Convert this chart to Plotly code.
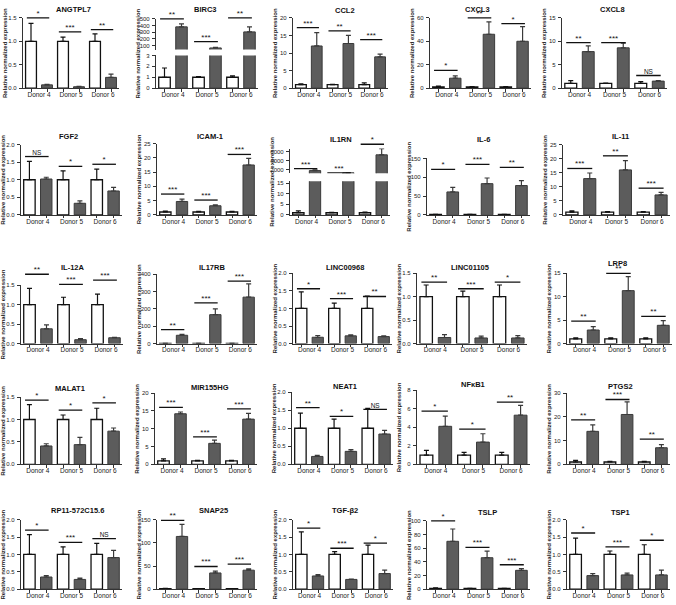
import plotly.graph_objects as go

# ---------------- data ----------------
genes = ["ANGTPL7", "BIRC3", "CCL2", "CXCL3", "CXCL8",
         "FGF2", "ICAM-1", "IL1RN", "IL-6", "IL-11",
         "IL-12A", "IL17RB", "LINC00968", "LINC01105", "LRP8",
         "MALAT1", "MIR155HG", "NEAT1", "NFκB1", "PTGS2",
         "RP11-572C15.6", "SNAP25", "TGF-β2", "TSLP", "TSP1"]
donors = ["Donor 4", "Donor 5", "Donor 6"]

ctrl_mean = [
    [1, 1, 1], [1, 1, 1], [1, 1, 1], [1, 1, 1], [1, 1, 1],
    [1, 1, 1], [1, 1, 1], [1, 1, 1], [1, 1, 1], [1, 1, 1],
    [1, 1, 1], [1, 1, 1], [1, 1, 1], [1, 1, 1], [1, 1, 1],
    [1, 1, 1], [1, 1, 1], [1, 1, 1], [1, 1, 1], [1, 1, 1],
    [1, 1, 1], [1, 1, 1], [1, 1, 1], [1, 1, 1], [1, 1, 1],
]
ctrl_err = [
    [0.38, 0.09, 0.16], [0.85, 0.07, 0.12], [0.25, 0.05, 0.5], [0.8, 0.3, 0.3], [0.6, 0.1, 0.4],
    [0.52, 0.25, 0.3], [0.35, 0.2, 0.2], [0.9, 0.15, 0.3], [0.6, 0.4, 0.5], [0.4, 0.15, 0.2],
    [0.42, 0.19, 0.27], [0.6, 0.4, 0.4], [0.47, 0.15, 0.35], [0.25, 0.12, 0.25], [0.25, 0.25, 0.2],
    [0.33, 0.1, 0.25], [0.55, 0.1, 0.1], [0.42, 0.25, 0.55], [0.5, 0.3, 0.3], [0.7, 0.3, 0.3],
    [0.57, 0.22, 0.32], [0.6, 0.4, 0.4], [0.65, 0.08, 0.27], [0.8, 0.3, 0.3], [0.47, 0.1, 0.28],
]
treat_mean = [
    [0.07, 0.03, 0.23], [380, 65, 305], [12.0, 12.7, 8.9], [8.5, 46, 40], [7.8, 8.6, 1.5],
    [1.02, 0.33, 0.68], [4.7, 3.2, 17.5], [1800, 1300, 5300], [61, 83, 78], [12.9, 16.0, 7.1],
    [0.38, 0.10, 0.15], [48, 167, 268], [0.18, 0.22, 0.20], [0.13, 0.12, 0.12], [2.9, 11.3, 3.9],
    [0.41, 0.44, 0.74], [14.2, 5.9, 12.7], [0.22, 0.36, 0.84], [4.1, 2.4, 5.3], [13.9, 21.0, 7.0],
    [0.35, 0.28, 0.91], [114, 35, 41], [0.38, 0.28, 0.45], [70, 46, 27.5], [0.39, 0.41, 0.41],
]
treat_err = [
    [0.01, 0.01, 0.07], [45, 8, 75], [3.8, 2.3, 0.8], [2.0, 10.5, 12.5], [1.2, 1.0, 0.1],
    [0.05, 0.07, 0.1], [0.8, 0.35, 2.3], [150, 50, 1400], [12, 15, 13], [2.0, 3.3, 0.9],
    [0.1, 0.03, 0.01], [6, 33, 77], [0.05, 0.03, 0.02], [0.06, 0.04, 0.05], [0.7, 3.0, 1.0],
    [0.05, 0.16, 0.07], [0.5, 0.9, 1.6], [0.03, 0.05, 0.1], [1.1, 0.9, 1.05], [2.7, 5.3, 1.3],
    [0.04, 0.04, 0.21], [26, 4, 3], [0.04, 0.01, 0.1], [18, 9.5, 2.5], [0.06, 0.05, 0.14],
]
signif = [
    ["*", "***", "**"], ["**", "***", "**"], ["***", "**", "***"], ["*", "**", "*"], ["**", "***", "NS"],
    ["NS", "*", "*"], ["***", "***", "***"], ["***", "***", "*"], ["*", "***", "**"], ["***", "**", "***"],
    ["**", "***", "***"], ["**", "***", "***"], ["*", "***", "**"], ["**", "***", "*"], ["**", "**", "**"],
    ["*", "*", "*"], ["***", "***", "***"], ["**", "*", "NS"], ["*", "*", "**"], ["**", "***", "**"],
    ["*", "***", "NS"], ["**", "***", "***"], ["*", "***", "*"], ["*", "***", "***"], ["*", "***", "*"],
]
signif_level = [
    [1.5, 1.2, 1.25], [500, 160, 515], [17.2, 16.3, 13.8], [15.2, 60, 55], [9.7, 9.7, 2.7],
    [1.66, 1.38, 1.44], [7.3, 5.2, 21.2], [2230, 1270, 7650], [121, 134, 126], [16.5, 21, 9.5],
    [1.78, 1.52, 1.63], [81, 235, 360], [1.56, 1.28, 1.34], [1.31, 1.17, 1.31], [4.8, 15, 5.8],
    [1.43, 1.21, 1.37], [16, 7.7, 15.6], [1.57, 1.33, 1.52], [5.73, 3.8, 6.7], [18.7, 27.3, 10.6],
    [1.7, 1.35, 1.46], [149, 49, 54], [1.76, 1.18, 1.33], [100, 61, 35.7], [1.62, 1.22, 1.41],
]
y_max = [1.5, 3, 20, 60, 15,
         2, 25, 16, 150, 25,
         1.5, 400, 2, 1.5, 15,
         1.5, 20, 2, 8, 30,
         2, 150, 2, 100, 2]
y_step = [0.5, 1, 5, 20, 5,
          0.5, 5, 5, 50, 5,
          0.5, 100, 0.5, 0.5, 5,
          0.5, 5, 0.5, 2, 10,
          0.5, 50, 0.5, 20, 0.5]
# upper segments of broken axes: panel index -> (range low, range high), ticks
upper_range = {1: (41, 500), 7: (1200, 6700)}
upper_ticks = {1: [100, 200, 300, 400, 500], 7: [2000, 4000, 6000]}

# ---------------- geometry (pixels) ----------------
W, H = 676, 605
# axis-left x, axis-right x, y of top of axis, y of baseline
panel_px = [
    (23, 119, 15, 86), (156, 258, 53, 86), (293, 388, 15, 86), (430, 531, 15, 86), (562, 667, 15, 86),
    (21, 122, 143, 214), (157, 257, 142, 214), (290, 390, 180, 214), (427, 530, 157, 214), (563, 670, 143, 214),
    (21, 123, 285, 344), (157, 257, 274, 344), (293, 392, 273, 344), (417, 527, 273, 344), (567, 672, 273, 344),
    (21, 122, 398, 466), (155, 257, 394, 466), (292, 393, 393, 466), (417, 530, 391, 466), (567, 670, 394, 466),
    (21, 122, 522, 592), (157, 257, 522, 592), (293, 393, 522, 592), (427, 530, 523, 592), (567, 670, 522, 592),
]
upper_px = {1: (16, 47), 7: (147, 172)}
title_px = [
    (73, 7), (205, 7), (345, 8), (477, 7), (612, 7),
    (68, 135), (210, 135), (341, 138), (483, 138), (620, 135),
    (73, 267), (212, 267), (345, 267), (470, 267), (617, 263),
    (70, 389), (210, 388), (345, 387), (473, 385), (620, 387),
    (77, 513), (213, 513), (345, 513), (487, 515), (620, 515),
]
SIG_EXT = 30  # extra pixels above each panel for significance bars

FONT = "Liberation Sans, Arial, sans-serif"
AXC = "#333333"
GRAY = "#5c5c5c"
XW = [-0.25, 0.75, 1.75]
XG = [0.25, 1.25, 2.25]
SIG_LEFT, SIG_RIGHT = -0.38, 0.32


def pxx(p):
    return p / W


def pxy(p):
    return 1 - p / H


def nm(n, a):
    return a + ("" if n == 1 else str(n))


def lname(n, a):
    return a + "axis" + ("" if n == 1 else str(n))


def fmt(v, step):
    return f"{v:.1f}" if step < 1 else f"{int(round(v))}"


fig = go.Figure()
layout = dict(
    width=W, height=H, margin=dict(l=0, r=0, t=0, b=0),
    paper_bgcolor="white", plot_bgcolor="rgba(0,0,0,0)",
    barmode="overlay", showlegend=False,
    font=dict(family=FONT, color="#222222"),
)
annotations = []


def add_bars(n, i):
    xr, yr = nm(n, "x"), nm(n, "y")
    fig.add_trace(go.Bar(
        x=XW, y=ctrl_mean[i], width=0.34, xaxis=xr, yaxis=yr,
        marker=dict(color="white", line=dict(color="#111111", width=1.3)),
        error_y=dict(type="data", symmetric=False, array=ctrl_err[i], arrayminus=[0, 0, 0],
                     color="#111111", thickness=1.2, width=2.5),
        hoverinfo="skip"))
    fig.add_trace(go.Bar(
        x=XG, y=treat_mean[i], width=0.34, xaxis=xr, yaxis=yr,
        marker=dict(color=GRAY, line=dict(color="#3a3a3a", width=1.0)),
        error_y=dict(type="data", symmetric=False, array=treat_err[i], arrayminus=[0, 0, 0],
                     color="#3a3a3a", thickness=1.2, width=2.5),
        hoverinfo="skip"))


def add_sig(n, i):
    xr, yr = nm(n, "x"), nm(n, "y")
    xc = [g + (SIG_LEFT + SIG_RIGHT) / 2 for g in range(3)]
    lv = signif_level[i]
    xs, ys = [], []
    for g in range(3):
        xs += [g + SIG_LEFT, g + SIG_RIGHT, None]
        ys += [lv[g], lv[g], None]
    fig.add_trace(go.Scatter(x=xs, y=ys, xaxis=xr, yaxis=yr, mode="lines",
                             line=dict(color="#111111", width=1.3), hoverinfo="skip"))
    stars = [s if s != "NS" else "" for s in signif[i]]
    ns = [s if s == "NS" else "" for s in signif[i]]
    fig.add_trace(go.Scatter(
        x=xc, y=lv, xaxis=xr, yaxis=yr, mode="text", text=stars, cliponaxis=False,
        textposition="top center", textfont=dict(size=8, family=FONT, color="#111111"),
        hoverinfo="skip"))
    fig.add_trace(go.Scatter(
        x=xc, y=lv, xaxis=xr, yaxis=yr, mode="text", text=ns, cliponaxis=False,
        textposition="top center", textfont=dict(size=6.5, family=FONT, color="#111111"),
        hoverinfo="skip"))


def yaxis_dict(n, dom, rng, ticks, step):
    return dict(domain=dom, range=rng, anchor=nm(n, "x"), showline=True, linecolor=AXC,
                linewidth=1.2, ticks="outside", ticklen=3, tickwidth=1, tickcolor=AXC,
                tickmode="array", tickvals=ticks, ticktext=[fmt(t, step) for t in ticks],
                tickfont=dict(size=6, family=FONT, color="#222222"), showgrid=False,
                zeroline=False, fixedrange=True, ticklabelstandoff=1)


n = 0
for i, gene in enumerate(genes):
    ax, right, top, base = panel_px[i]
    step = y_step[i]
    nt = int(round(y_max[i] / step))
    ticks = [round(k * step, 3) for k in range(nt + 1)]
    if i in upper_range:
        ticks = [t for t in ticks if t <= 15]
    n += 1
    layout[lname(n, "x")] = dict(
        domain=[pxx(ax), pxx(right)], range=[-0.5, 2.5], anchor=nm(n, "y"),
        showline=True, linecolor=AXC, linewidth=1.2, ticks="", tickmode="array",
        tickvals=[0, 1, 2], ticktext=donors, tickfont=dict(size=6.5, family=FONT, color="#222222"),
        showgrid=False, zeroline=False, fixedrange=True,
        minor=dict(tickmode="array", tickvals=XW + XG, ticks="outside", ticklen=2.5,
                   tickwidth=1, tickcolor=AXC, showgrid=False))
    layout[lname(n, "y")] = yaxis_dict(n, [pxy(base), pxy(top)], [0, y_max[i]], ticks, step)
    add_bars(n, i)
    full_top = top
    # scale used for the significance bars (same pixels-per-unit as the visible scale)
    s_lo, s_hi, s_bot, s_top = 0, y_max[i], base, top
    if i in upper_range:
        ut, ub = upper_px[i]
        full_top = ut
        n += 1
        layout[lname(n, "x")] = dict(domain=[pxx(ax), pxx(right)], range=[-0.5, 2.5],
                                     anchor=nm(n, "y"), visible=False, fixedrange=True)
        layout[lname(n, "y")] = yaxis_dict(n, [pxy(ub), pxy(ut)], list(upper_range[i]),
                                           upper_ticks[i], 100)
        add_bars(n, i)
        s_lo, s_hi = upper_range[i]
        s_bot, s_top = ub, ut
    # hidden overlay-like axis pair for significance bars, extended upwards
    n += 1
    ext_top = max(s_top - SIG_EXT, 0)
    ext_hi = s_lo + (s_hi - s_lo) * (s_bot - ext_top) / (s_bot - s_top)
    layout[lname(n, "x")] = dict(domain=[pxx(ax), pxx(right)], range=[-0.5, 2.5],
                                 anchor=nm(n, "y"), visible=False, fixedrange=True)
    layout[lname(n, "y")] = dict(domain=[pxy(s_bot), pxy(ext_top)], range=[s_lo, ext_hi],
                                 anchor=nm(n, "x"), visible=False, fixedrange=True)
    add_sig(n, i)
    tx, ty = title_px[i]
    annotations.append(dict(x=pxx(tx), y=pxy(ty), xref="paper", yref="paper",
                            text="<b>" + gene + "</b>", showarrow=False,
                            xanchor="center", yanchor="middle",
                            font=dict(size=7.5, family=FONT, color="#111111")))
    annotations.append(dict(x=pxx(ax - 18), y=pxy((full_top + base) / 2), xref="paper", yref="paper",
                            text="<b>Relative normalized expression</b>", showarrow=False,
                            textangle=-90, xanchor="center", yanchor="middle",
                            font=dict(size=6, family=FONT, color="#222222")))

layout["annotations"] = annotations
fig.update_layout(**layout)
fig.write_html("out.html", config={"displayModeBar": False},
               post_script="document.body.style.margin='0';document.body.style.overflow='hidden';")
